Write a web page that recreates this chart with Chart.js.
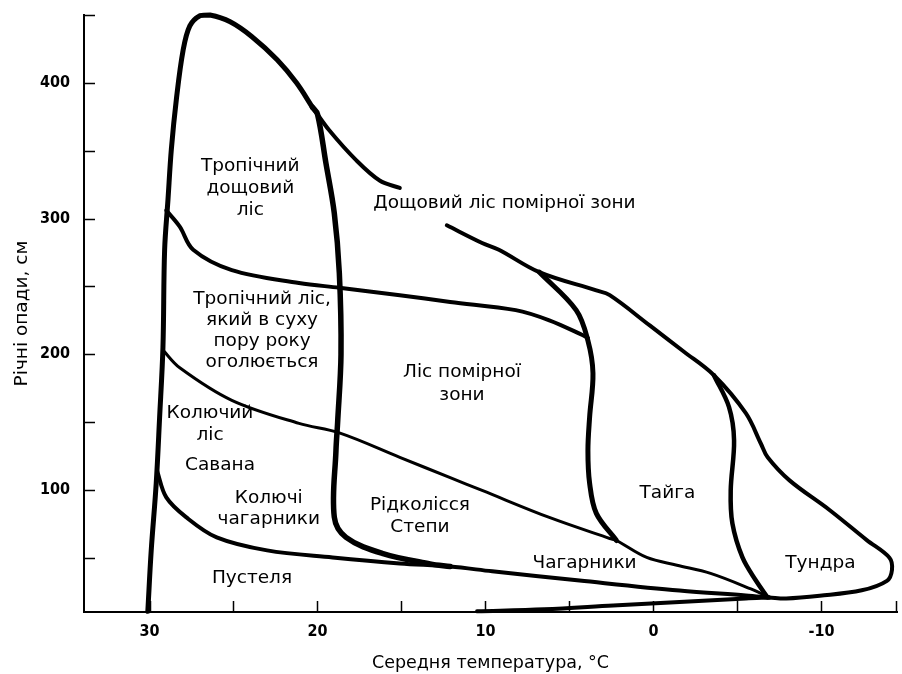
<!DOCTYPE html>
<html>
<head>
<meta charset="utf-8">
<script src="https://cdn.jsdelivr.net/npm/chart.js"></script>
<style>
  html, body { margin: 0; padding: 0; background: #fff; }
  #wrap { width: 902px; height: 674px; }
</style>
</head>
<body>
<div id="wrap"><canvas id="biomes"></canvas></div>
<script>
// boundaries of the biomes, [temperature °C, precipitation cm]
const outerLeft = [[30.1, 10.5], [29.9, 55], [29.6, 105], [29.4, 153], [29.2, 205], [29.1, 277], [28.9, 314],
  [28.7, 351], [28.4, 388], [28.0, 424], [27.6, 442], [27.0, 449.5], [26.4, 450], [25.2, 445], [23.9, 434],
  [22.4, 417], [21.25, 400], [20.3, 382]];
const rainUpper = [[20.3, 382], [19.3, 365], [17.7, 343], [16.3, 328], [15.1, 322.5]];
const outerRight = [[12.3, 295], [10.2, 282], [9.2, 277], [6.8, 260.5], [3.4, 247], [2.6, 243.5], [0.2, 221],
  [-1.8, 202], [-3.6, 184.5], [-5.5, 156.5], [-6.4, 134], [-6.8, 124], [-8.1, 107], [-10.5, 85], [-12.7, 63],
  [-14.05, 50], [-14.2, 41], [-13.9, 33], [-12.4, 26], [-9.9, 22], [-7.9, 20], [-6.9, 20.7]];
const tropicEdge = [[20.3, 382], [20.0, 377], [19.5, 341], [19.0, 304], [18.7, 260], [18.6, 200], [18.8, 150],
  [18.9, 129], [19.0, 80], [18.3, 65], [16.1, 53], [13.3, 45.5], [12.1, 43.5]];
const seasonalTop = [[29.0, 306], [28.2, 294], [27.4, 277], [25.1, 262], [21.1, 252.5], [18.7, 249], [15.1, 243.5],
  [12.1, 238.5], [8.2, 232.5], [6.2, 225], [4.2, 214], [3.9, 212]];
const woodlandTop = [[29.2, 203], [28.2, 190], [25.1, 166], [21.1, 149], [18.7, 142], [15.1, 124], [12.1, 109],
  [10.2, 99.6], [6.2, 79.7], [2.6, 64.2], [2.2, 62.7], [0.4, 50.2], [-1.4, 44.5], [-3.4, 38.5], [-5.8, 27],
  [-6.9, 20.7]];
const taigaLeft = [[6.8, 260.5], [4.6, 232.5], [3.9, 210], [3.6, 186], [3.8, 153.5], [3.9, 129], [3.8, 105],
  [3.4, 82.7], [2.2, 62.7]];
const taigaRight = [[-3.6, 184.5], [-4.5, 161], [-4.8, 136.5], [-4.6, 99.6], [-4.7, 75.3], [-5.3, 50.2],
  [-6.1, 33.2], [-6.8, 20.7]];
const desertTop = [[29.55, 114], [29.0, 94.5], [27.8, 79.7], [26.0, 65], [23.0, 55.4], [19.1, 50.2], [15.1, 45.8],
  [12.1, 43.5], [9.6, 40], [4.4, 33.2], [-1.55, 25.8], [-5.5, 22.2], [-6.9, 20.7]];
const bottomEdge = [[10.5, 10.5], [6.5, 12], [2.4, 14.8], [-5.5, 20], [-6.9, 20.7]];

const curves = [
  { pts: outerLeft, w: 5 },
  { pts: rainUpper, w: 4 },
  { pts: outerRight, w: 4 },
  { pts: tropicEdge, w: 5.5 },
  { pts: seasonalTop, w: 4 },
  { pts: woodlandTop, w: 3 },
  { pts: taigaLeft, w: 5 },
  { pts: taigaRight, w: 4.5 },
  { pts: desertTop, w: 4 },
  { pts: bottomEdge, w: 4 }
];

const xTicks = [30, 25, 20, 15, 10, 5, 0, -5, -10];
const xTickLabels = [30, 20, 10, 0, -10];
const yTicks = [50, 100, 150, 200, 250, 300, 350, 400, 450];
const yTickLabels = [100, 200, 300, 400];

const zoneLabels = [
  { lines: ['Тропічний', 'дощовий', 'ліс'], t: 24.0, p: 338.7, lh: 22 },
  { lines: ['Дощовий ліс помірної зони'], t: 8.87, p: 311.4, lh: 22 },
  { lines: ['Тропічний ліс,', 'який в суху', 'пору року', 'оголюється'], t: 23.3, p: 240.6, lh: 21 },
  { lines: ['Ліс помірної', 'зони'], t: 11.4, p: 186.7, lh: 23 },
  { lines: ['Колючий', 'ліс'], t: 26.4, p: 156.5, lh: 22 },
  { lines: ['Савана'], t: 25.8, p: 118.1, lh: 22 },
  { lines: ['Колючі', 'чагарники'], t: 22.9, p: 93.7, lh: 21 },
  { lines: ['Рідколісся', 'Степи'], t: 13.9, p: 88.6, lh: 22 },
  { lines: ['Пустеля'], t: 23.9, p: 34.7, lh: 22 },
  { lines: ['Тайга'], t: -0.83, p: 97.4, lh: 22 },
  { lines: ['Чагарники'], t: 4.1, p: 45.8, lh: 22 },
  { lines: ['Тундра'], t: -9.94, p: 45.8, lh: 22 }
];

const inkPlugin = {
  id: 'ink',
  afterDatasetsDraw(chart) {
    const { ctx, chartArea: area, scales: { x, y } } = chart;
    ctx.save();
    ctx.fillStyle = '#000';
    ctx.font = '18.5px "DejaVu Sans"';
    ctx.textAlign = 'center';
    ctx.textBaseline = 'middle';
    zoneLabels.forEach(z => {
      const px = x.getPixelForValue(z.t);
      const py = y.getPixelForValue(z.p);
      z.lines.forEach((s, i) => ctx.fillText(s, px, py + i * z.lh));
    });
    // tick marks point into the plot
    ctx.strokeStyle = '#000';
    ctx.lineWidth = 1.5;
    ctx.beginPath();
    yTicks.forEach(v => {
      const py = Math.round(y.getPixelForValue(v)) + 0.5;
      ctx.moveTo(area.left, py);
      ctx.lineTo(area.left + 11, py);
    });
    xTicks.forEach(v => {
      const px = Math.round(x.getPixelForValue(v)) + 0.5;
      ctx.moveTo(px, area.bottom);
      ctx.lineTo(px, area.bottom - 11);
    });
    ctx.moveTo(area.right - 0.5, area.bottom);
    ctx.lineTo(area.right - 0.5, area.bottom - 11);
    ctx.stroke();
    ctx.restore();
  }
};

const tickFont = { family: '"DejaVu Sans Condensed", "DejaVu Sans", sans-serif', size: 16, weight: 'bold' };

new Chart(document.getElementById('biomes'), {
  type: 'scatter',
  data: {
    datasets: curves.map(c => ({
      data: c.pts.map(([t, p]) => ({ x: t, y: p })),
      showLine: true,
      borderColor: '#000',
      borderWidth: c.w,
      pointRadius: 0,
      tension: 0.35,
      borderCapStyle: 'round',
      borderJoinStyle: 'round',
      clip: false
    }))
  },
  options: {
    responsive: true,
    maintainAspectRatio: false,
    animation: false,
    layout: { padding: { top: 15, right: 5, left: 0, bottom: 0 } },
    plugins: { legend: { display: false }, tooltip: { enabled: false } },
    scales: {
      x: {
        type: 'linear',
        reverse: true,
        min: -14.5,
        max: 33.9,
        afterBuildTicks: s => { s.ticks = xTicks.map(v => ({ value: v })); },
        afterFit: s => { s.height = 62; s.paddingLeft = 0; s.paddingRight = 0; },
        grid: { display: false, drawTicks: false },
        border: { display: true, color: '#000', width: 2 },
        ticks: {
          padding: 10,
          color: '#000',
          font: tickFont,
          maxRotation: 0,
          autoSkip: false,
          callback: v => xTickLabels.includes(v) ? String(v) : ''
        },
        title: { display: true, text: 'Середня температура, °С', color: '#000',
          font: { family: '"DejaVu Sans"', size: 17.5 }, padding: 0 }
      },
      y: {
        min: 10,
        max: 450,
        afterBuildTicks: s => { s.ticks = yTicks.map(v => ({ value: v })); },
        afterFit: s => { s.width = 84; s.paddingTop = 0; s.paddingBottom = 0; },
        grid: { display: false, drawTicks: false },
        border: { display: true, color: '#000', width: 2 },
        ticks: {
          padding: 14,
          color: '#000',
          font: tickFont,
          autoSkip: false,
          callback: v => yTickLabels.includes(v) ? String(v) : ''
        },
        title: { display: true, text: 'Річні опади, см', color: '#000',
          font: { family: '"DejaVu Sans"', size: 18.5 }, padding: 11 }
      }
    }
  },
  plugins: [inkPlugin]
});
</script>
</body>
</html>
